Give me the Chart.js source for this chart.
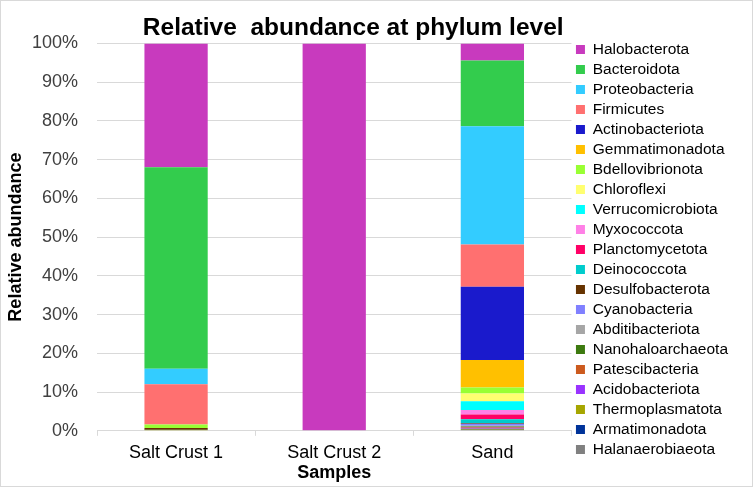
<!DOCTYPE html>
<html>
<head>
<meta charset="utf-8">
<script src="https://cdn.jsdelivr.net/npm/chart.js@4/dist/chart.umd.min.js"></script>
<style>
  html, body { margin: 0; padding: 0; background: #fff; }
  #wrap { position: relative; width: 753px; height: 487px; box-sizing: border-box; border: 1px solid #d9d9d9; }
</style>
</head>
<body>
<div id="wrap"><canvas id="chart"></canvas></div>
<script>
// samples on the x axis
const samples = ['Salt Crust 1', 'Salt Crust 2', 'Sand'];

// phyla, listed as in the legend (top of the stack first)
const phyla = ['Halobacterota','Bacteroidota','Proteobacteria','Firmicutes','Actinobacteriota',
  'Gemmatimonadota','Bdellovibrionota','Chloroflexi','Verrucomicrobiota','Myxococcota',
  'Planctomycetota','Deinococcota','Desulfobacterota','Cyanobacteria','Abditibacteriota',
  'Nanohaloarchaeota','Patescibacteria','Acidobacteriota','Thermoplasmatota','Armatimonadota',
  'Halanaerobiaeota'];

// relative abundance (%) per phylum: [Salt Crust 1, Salt Crust 2, Sand]
const halobacterota     = [32.0, 100, 4.4];
const bacteroidota      = [52.0, 0, 17.0];
const proteobacteria    = [4.0, 0, 30.5];
const firmicutes        = [10.4, 0, 10.9];
const actinobacteriota  = [0, 0, 18.9];
const gemmatimonadota   = [0, 0, 7.1];
const bdellovibrionota  = [0.9, 0, 1.6];
const chloroflexi       = [0, 0, 2.0];
const verrucomicrobiota = [0, 0, 2.2];
const myxococcota       = [0, 0, 1.2];
const planctomycetota   = [0, 0, 1.2];
const deinococcota      = [0, 0, 1.0];
const desulfobacterota  = [0.4, 0, 0.2];
const cyanobacteria     = [0, 0, 0.5];
const abditibacteriota  = [0, 0, 0.2];
const nanohaloarchaeota = [0.1, 0, 0.1];
const patescibacteria   = [0, 0, 0.2];
const acidobacteriota   = [0, 0, 0.3];
const thermoplasmatota  = [0.2, 0, 0.2];
const armatimonadota    = [0, 0, 0.1];
const halanaerobiaeota  = [0, 0, 0.2];

const values = [halobacterota, bacteroidota, proteobacteria, firmicutes, actinobacteriota,
  gemmatimonadota, bdellovibrionota, chloroflexi, verrucomicrobiota, myxococcota,
  planctomycetota, deinococcota, desulfobacterota, cyanobacteria, abditibacteriota,
  nanohaloarchaeota, patescibacteria, acidobacteriota, thermoplasmatota, armatimonadota,
  halanaerobiaeota];

const colors = ['#C83ABE','#33CC4D','#33CCFF','#FF7070','#1A1ACC',
  '#FFC000','#99FF33','#FFFF70','#00FFFF','#FF80E6',
  '#FF0066','#00CCCC','#663300','#8080FF','#A6A6A6',
  '#3D7A0F','#CC5A1E','#9933FF','#A6A600','#003399',
  '#808080'];

// bottom of the stack first, legend reversed back to the listed order
const datasets = phyla.map((name, i) => ({
  label: name,
  data: values[i],
  backgroundColor: colors[i],
  borderWidth: 0,
  barPercentage: 0.4,
  categoryPercentage: 1
})).reverse();

const FONT = "'Liberation Sans', Arial, sans-serif";

// title sits a bit right of the plot centre in the original
const titleShift = {
  id: 'titleShift',
  afterLayout(chart) { if (chart.titleBlock) chart.titleBlock.left += 38; }
};

new Chart(document.getElementById('chart'), {
  type: 'bar',
  data: { labels: samples, datasets },
  options: {
    responsive: true,
    maintainAspectRatio: false,
    animation: false,
    layout: { padding: { top: 4, right: 14, left: 4, bottom: 2 } },
    plugins: {
      title: {
        display: true,
        text: 'Relative  abundance at phylum level',
        color: '#000',
        font: { family: FONT, size: 24.5, weight: 'bold' },
        padding: { top: 9, bottom: 0 },
        fullSize: false
      },
      legend: {
        position: 'right',
        reverse: true,
        title: { display: true, text: '', font: { size: 1 }, padding: { top: 4, bottom: 5 } },
        labels: {
          color: '#000',
          font: { family: FONT, size: 15.5 },
          boxWidth: 9, boxHeight: 9,
          padding: 4.5
        }
      },
      tooltip: { enabled: false }
    },
    scales: {
      x: {
        stacked: true,
        grid: { display: true, drawOnChartArea: false, offset: true, color: '#d9d9d9', tickLength: 5 },
        border: { display: true, color: '#d9d9d9' },
        ticks: { color: '#000', font: { family: FONT, size: 18 }, padding: 6 },
        title: { display: true, text: 'Samples', color: '#000', font: { family: FONT, size: 18, weight: 'bold' }, padding: { top: -7, bottom: 0 } }
      },
      y: {
        stacked: true,
        min: 0, max: 100,
        afterFit: scale => { scale.width = 92; },
        ticks: { stepSize: 10, callback: v => v + '%', color: '#404040', font: { family: FONT, size: 18 }, padding: 19 },
        grid: { color: '#d9d9d9', drawTicks: false },
        border: { display: false },
        title: { display: true, text: 'Relative abundance', color: '#000', font: { family: FONT, size: 18, weight: 'bold' }, padding: { top: 0, bottom: 0 } }
      }
    }
  },
  plugins: [titleShift]
});
</script>
</body>
</html>
